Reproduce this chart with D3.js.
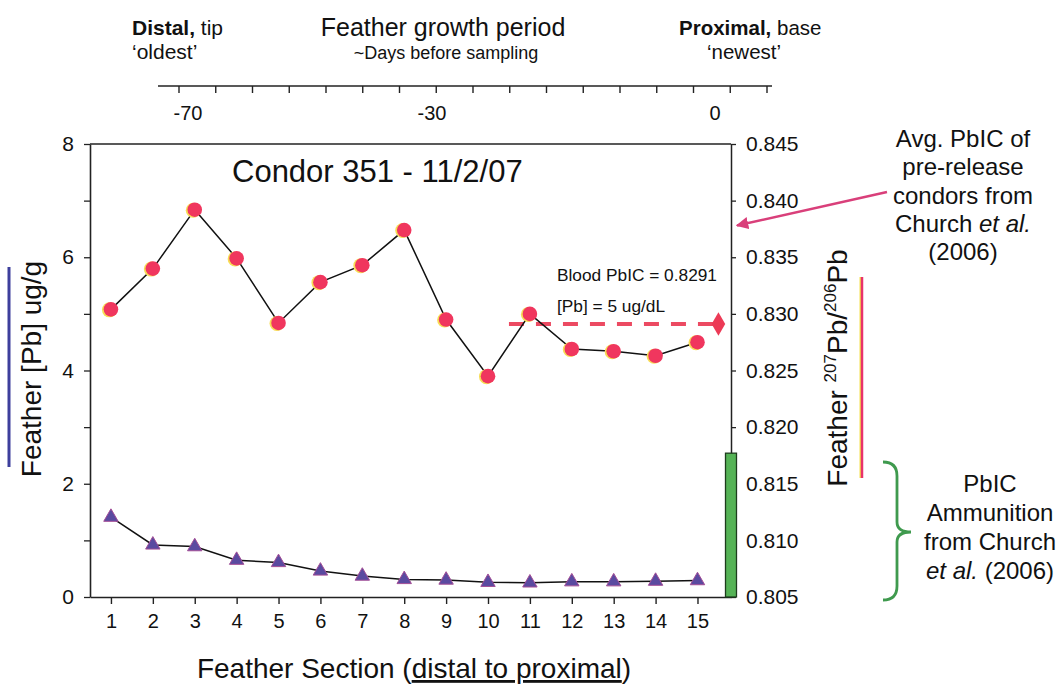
<!DOCTYPE html>
<html>
<head>
<meta charset="utf-8">
<script src="https://cdn.jsdelivr.net/npm/d3@7"></script>
<style>
  html, body { margin: 0; padding: 0; background: #fff; }
  svg { display: block; font-family: "Liberation Sans", Arial, Helvetica, sans-serif; }
</style>
</head>
<body>
<svg id="chart" width="1059" height="688"></svg>
<script>
// ---------- data ----------
const sections = [1, 2, 3, 4, 5, 6, 7, 8, 9, 10, 11, 12, 13, 14, 15];
const featherPb = [1.41, 0.92, 0.89, 0.65, 0.61, 0.46, 0.37, 0.31, 0.30, 0.26, 0.25, 0.27, 0.27, 0.28, 0.29];
const featherPbIC = [0.8304, 0.8340, 0.8392, 0.8349, 0.8292, 0.8328, 0.8343, 0.8374, 0.8295, 0.8245, 0.8300, 0.8269, 0.8267, 0.8263, 0.8275];
const bloodPbIC = 0.8291;
const bloodSpan = [10.5, 15.5];
const ammoRange = [0.805, 0.8177];
const avgPreRelease = 0.8378;
const leftTicks = [0, 1, 2, 3, 4, 5, 6, 7, 8];
const leftLabels = [0, 2, 4, 6, 8];
const rightTicks = [0.805, 0.810, 0.815, 0.820, 0.825, 0.830, 0.835, 0.840, 0.845];
const dayLabels = [-70, -30, 0];
const dayTickCount = 17;

// ---------- layout ----------
const svg = d3.select("#chart");
const M = { left: 90, right: 731, top: 144, bottom: 597 };
const font = '"Liberation Sans", Arial, sans-serif';

const x = d3.scaleLinear().domain([0.5, 15.8]).range([M.left, M.right]);
const yL = d3.scaleLinear().domain([0, 8]).range([M.bottom, M.top]);
const yR = d3.scaleLinear().domain([0.805, 0.845]).range([M.bottom, M.top]);

// ---------- top "days" annotation axis ----------
const dayPos = d3.scaleLinear().domain([-70, -30, 0]).range([188, 432, 715]);
const dayTickPos = d3.scaleLinear().domain([0, dayTickCount - 1]).range([179, 767]);
const topG = svg.append("g");
topG.append("line").attr("x1", 158).attr("x2", 772).attr("y1", 86).attr("y2", 86)
  .attr("stroke", "#222").attr("stroke-width", 1.6);
topG.selectAll("line.dt").data(d3.range(dayTickCount)).join("line")
  .attr("class", "dt")
  .attr("x1", d => dayTickPos(d)).attr("x2", d => dayTickPos(d))
  .attr("y1", 86).attr("y2", 93).attr("stroke", "#222").attr("stroke-width", 1.4);
topG.selectAll("text.dl").data(dayLabels).join("text")
  .attr("class", "dl")
  .attr("x", d => dayPos(d)).attr("y", 120)
  .attr("text-anchor", "middle").attr("font-size", 20).attr("fill", "#111")
  .text(d => d);

// top header texts
const t1 = svg.append("text").attr("x", 132).attr("y", 35).attr("font-size", 21).attr("fill", "#111");
t1.append("tspan").attr("font-weight", "bold").text("Distal,");
t1.append("tspan").text(" tip");
svg.append("text").attr("x", 132).attr("y", 59).attr("font-size", 21).attr("fill", "#111").text("\u2018oldest\u2019");

svg.append("text").attr("x", 443).attr("y", 36).attr("text-anchor", "middle")
  .attr("font-size", 25).attr("fill", "#111").text("Feather growth period");
svg.append("text").attr("x", 446).attr("y", 59).attr("text-anchor", "middle")
  .attr("font-size", 18).attr("fill", "#111").text("~Days before sampling");

const t3 = svg.append("text").attr("x", 679).attr("y", 35).attr("font-size", 20.5).attr("fill", "#111");
t3.append("tspan").attr("font-weight", "bold").text("Proximal,");
t3.append("tspan").text(" base");
svg.append("text").attr("x", 707).attr("y", 59).attr("font-size", 20.5).attr("fill", "#111").text("\u2018newest\u2019");

// ---------- plot frame & axes ----------
const plot = svg.append("g");
plot.append("line").attr("x1", M.left).attr("x2", M.right).attr("y1", M.top).attr("y2", M.top)
  .attr("stroke", "#222").attr("stroke-width", 1.5);

// bottom axis
const xAxis = d3.axisBottom(x).tickValues(sections).tickSize(7).tickSizeOuter(0).tickPadding(10);
const gx = plot.append("g").attr("transform", `translate(0,${M.bottom})`).call(xAxis);
gx.select(".domain").attr("stroke", "#222").attr("stroke-width", 1.6);
gx.selectAll(".tick line").attr("stroke", "#222").attr("stroke-width", 1.4);
gx.selectAll(".tick text").attr("font-size", 20).attr("font-family", font).attr("fill", "#111");

// left axis
const yAxisL = d3.axisLeft(yL).tickValues(leftTicks).tickSize(6).tickSizeOuter(0).tickPadding(10)
  .tickFormat(d => leftLabels.includes(d) ? d : "");
const gyl = plot.append("g").attr("transform", `translate(${M.left},0)`).call(yAxisL);
gyl.select(".domain").attr("stroke", "#222").attr("stroke-width", 1.6);
gyl.selectAll(".tick line").attr("stroke", "#222").attr("stroke-width", 1.3);
gyl.selectAll(".tick text").attr("font-size", 21).attr("font-family", font).attr("fill", "#111");

// right axis
const yAxisR = d3.axisRight(yR).tickValues(rightTicks).tickSize(5).tickSizeOuter(0).tickPadding(10)
  .tickFormat(d3.format(".3f"));
const gyr = plot.append("g").attr("transform", `translate(${M.right},0)`).call(yAxisR);
gyr.select(".domain").attr("stroke", "#222").attr("stroke-width", 1.5);
gyr.selectAll(".tick line").attr("stroke", "#222").attr("stroke-width", 1.3);
gyr.selectAll(".tick text").attr("font-size", 21).attr("font-family", font).attr("fill", "#111");

// green ammunition bar on right axis
plot.append("rect")
  .attr("x", M.right - 5.5).attr("width", 11)
  .attr("y", yR(ammoRange[1])).attr("height", yR(ammoRange[0]) - yR(ammoRange[1]))
  .attr("fill", "#55b356").attr("stroke", "#1d3d1d").attr("stroke-width", 1.3);

// title
svg.append("text").attr("x", 232).attr("y", 182)
  .attr("font-size", 31).attr("fill", "#111").text("Condor 351 - 11/2/07");

// ---------- series ----------
const ptsPb = sections.map((s, i) => [x(s), yL(featherPb[i])]);
const ptsIC = sections.map((s, i) => [x(s), yR(featherPbIC[i])]);

plot.append("path").attr("d", d3.line()(ptsPb)).attr("fill", "none")
  .attr("stroke", "#111").attr("stroke-width", 1.5);

// blood dashed reference line
plot.append("line")
  .attr("x1", x(bloodSpan[0])).attr("x2", x(bloodSpan[1]))
  .attr("y1", yR(bloodPbIC)).attr("y2", yR(bloodPbIC))
  .attr("stroke", "#ec4a62").attr("stroke-width", 4).attr("stroke-dasharray", "15,12");

plot.append("path").attr("d", d3.line()(ptsIC)).attr("fill", "none")
  .attr("stroke", "#111").attr("stroke-width", 1.5);

// triangles
const tri = d3.symbol().type(d3.symbolTriangle).size(90);
plot.selectAll("path.tri").data(ptsPb).join("path")
  .attr("class", "tri")
  .attr("transform", d => `translate(${d[0]},${d[1]})`)
  .attr("d", tri)
  .attr("fill", "#5a4aa0").attr("stroke", "#a34d96").attr("stroke-width", 1);

// circles (with slight yellow halo like the original)
plot.selectAll("circle.halo").data(ptsIC).join("circle")
  .attr("class", "halo")
  .attr("cx", d => d[0] - 1.5).attr("cy", d => d[1] + 0.5).attr("r", 7.5)
  .attr("fill", "#f7dd55");
plot.selectAll("circle.pt").data(ptsIC).join("circle")
  .attr("class", "pt")
  .attr("cx", d => d[0]).attr("cy", d => d[1]).attr("r", 7.3)
  .attr("fill", "#f0365e");

// diamond at blood value
plot.append("path")
  .attr("transform", `translate(${x(bloodSpan[1])},${yR(bloodPbIC)})`)
  .attr("d", d3.symbol().type(d3.symbolDiamond).size(160))
  .attr("fill", "#ec3a56");

// blood annotations
svg.append("text").attr("x", 557).attr("y", 281).attr("font-size", 17.3).attr("fill", "#111")
  .text("Blood PbIC = 0.8291");
svg.append("text").attr("x", 557).attr("y", 312).attr("font-size", 17.3).attr("fill", "#111")
  .text("[Pb] = 5 ug/dL");

// ---------- axis titles ----------
svg.append("text").attr("transform", "translate(41,369) rotate(-90)")
  .attr("text-anchor", "middle").attr("font-size", 28).attr("fill", "#111")
  .text("Feather [Pb] ug/g");
svg.append("line").attr("x1", 9).attr("x2", 9).attr("y1", 267).attr("y2", 467)
  .attr("stroke", "#3d3f9c").attr("stroke-width", 3);

const rt = svg.append("text").attr("transform", "translate(847,368) rotate(-90)")
  .attr("text-anchor", "middle").attr("font-size", 28).attr("fill", "#111");
rt.append("tspan").text("Feather ");
rt.append("tspan").attr("font-size", 17).attr("dy", -11).text("207");
rt.append("tspan").attr("dy", 11).text("Pb/");
rt.append("tspan").attr("font-size", 17).attr("dy", -11).text("206");
rt.append("tspan").attr("dy", 11).text("Pb");

svg.append("line").attr("x1", 860.5).attr("x2", 860.5).attr("y1", 277).attr("y2", 478)
  .attr("stroke", "#f5e04a").attr("stroke-width", 2);
svg.append("line").attr("x1", 862).attr("x2", 862).attr("y1", 277).attr("y2", 478)
  .attr("stroke", "#e8336b").attr("stroke-width", 2.5);

const bt = svg.append("text").attr("x", 414).attr("y", 678).attr("text-anchor", "middle")
  .attr("font-size", 28).attr("fill", "#111");
bt.append("tspan").text("Feather Section (");
bt.append("tspan").attr("text-decoration", "underline").text("distal to proximal");
bt.append("tspan").text(")");

// ---------- right annotations ----------
const avgLines = [["Avg. PbIC of"], ["pre-release"], ["condors from"], ["Church ", "et al."], ["(2006)"]];
const avgT = svg.append("text").attr("text-anchor", "middle").attr("font-size", 24).attr("fill", "#111");
avgLines.forEach((parts, i) => {
  const ts = avgT.append("tspan").attr("x", 963).attr("y", 147 + i * 28.3);
  parts.forEach(p => {
    const s = ts.append("tspan").text(p);
    if (p === "et al.") s.attr("font-style", "italic");
  });
});

// arrow
svg.append("defs").append("marker").attr("id", "ah").attr("viewBox", "0 0 10 10")
  .attr("refX", 9).attr("refY", 5).attr("markerWidth", 5).attr("markerHeight", 5)
  .attr("orient", "auto-start-reverse")
  .append("path").attr("d", "M0,0 L10,5 L0,10 z").attr("fill", "#d93f7a");
svg.append("line").attr("x1", 887).attr("y1", 192).attr("x2", x(15.8) + 6).attr("y2", yR(avgPreRelease))
  .attr("stroke", "#d93f7a").attr("stroke-width", 2.5).attr("marker-end", "url(#ah)");

// brace
const bx = 883, bTop = 462, bBot = 600, bMid = 532, bw = 14;
svg.append("path")
  .attr("d", `M${bx},${bTop} Q${bx + bw},${bTop} ${bx + bw},${bTop + 14} L${bx + bw},${bMid - 10} Q${bx + bw},${bMid} ${bx + bw * 2},${bMid} Q${bx + bw},${bMid} ${bx + bw},${bMid + 10} L${bx + bw},${bBot - 14} Q${bx + bw},${bBot} ${bx},${bBot}`)
  .attr("fill", "none").attr("stroke", "#3f9a4e").attr("stroke-width", 2.8);

const ammoLines = [["PbIC"], ["Ammunition"], ["from Church"], ["et al.", " (2006)"]];
const amT = svg.append("text").attr("text-anchor", "middle").attr("font-size", 24).attr("fill", "#111");
ammoLines.forEach((parts, i) => {
  const ts = amT.append("tspan").attr("x", 990).attr("y", 492 + i * 29);
  parts.forEach(p => {
    const s = ts.append("tspan").text(p);
    if (p === "et al.") s.attr("font-style", "italic");
  });
});
</script>
</body>
</html>
